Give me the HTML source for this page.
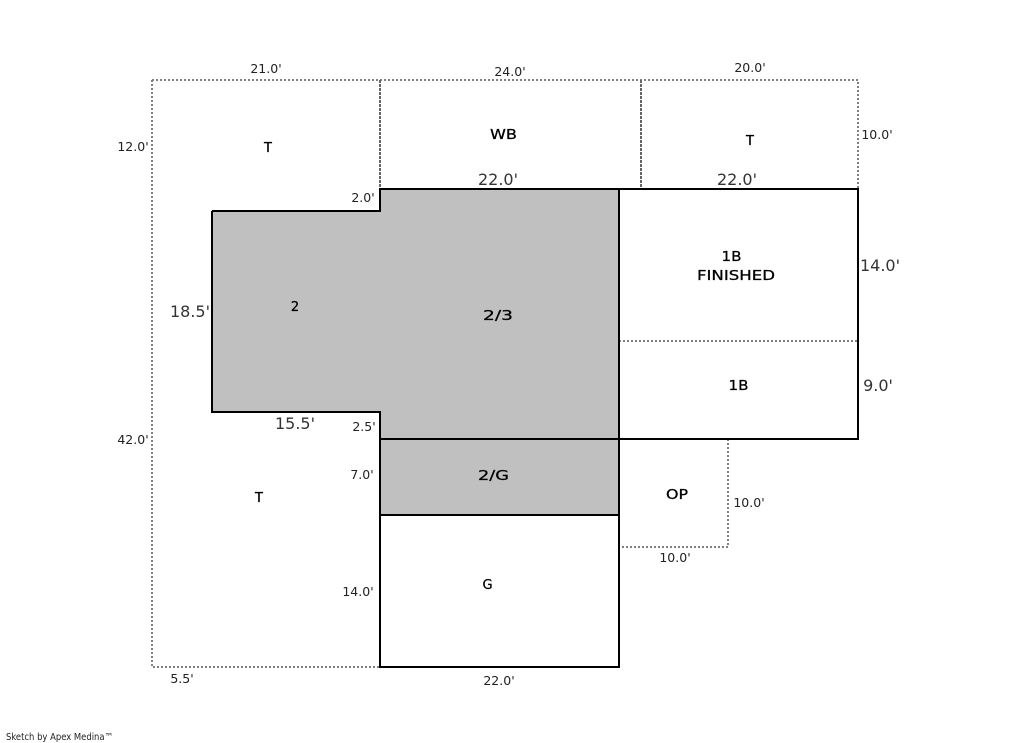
<!DOCTYPE html>
<html>
<head>
<meta charset="utf-8">
<style>
html,body{margin:0;padding:0;background:#fff;width:1013px;height:743px;overflow:hidden}
svg{display:block}
text{font-family:"DejaVu Sans","Liberation Sans",sans-serif;fill:#222;text-anchor:middle}
.s{font-size:12.5px}
.m{font-size:13px;fill:#000;stroke:#000;stroke-width:.25px}
.l{font-size:16px;fill:#333}
.f{font-size:9.5px;text-anchor:start}
.d{fill:none;stroke:#808080;stroke-width:2;stroke-dasharray:2 2;shape-rendering:crispEdges}
</style>
</head>
<body>
<svg width="1013" height="743" viewBox="0 0 1013 743" xmlns="http://www.w3.org/2000/svg">
<rect width="1013" height="743" fill="#fff"/>
<path d="M212 211H380V189H619V515H380V412H212Z" fill="#c0c0c0"/>
<path class="d" d="M152 80H858V189"/>
<path class="d" d="M152 80V667H380"/>
<path class="d" style="stroke:#666;stroke-dasharray:3 1" d="M380 80V189"/>
<path class="d" style="stroke:#666;stroke-dasharray:3 1" d="M641 80V189"/>
<path class="d" d="M728 439V547H619"/>
<path class="d" d="M619 341H858"/>
<g fill="none" stroke="#000" stroke-width="2">
<path d="M212 211H380V189H858V439H619"/>
<path d="M212 211V412H380V667H619V189"/>
<path d="M380 439H619"/>
<path d="M380 515H619"/>
</g>
<text class="s" x="266" y="73">21.0'</text>
<text class="s" x="510" y="76">24.0'</text>
<text class="s" x="750" y="72">20.0'</text>
<text class="s" x="133" y="151">12.0'</text>
<text class="s" x="877" y="139">10.0'</text>
<text class="s" x="363" y="202">2.0'</text>
<text class="s" x="133" y="444">42.0'</text>
<text class="s" x="364" y="431">2.5'</text>
<text class="s" x="362" y="479">7.0'</text>
<text class="s" x="358" y="596">14.0'</text>
<text class="s" x="182" y="683">5.5'</text>
<text class="s" x="499" y="685">22.0'</text>
<text class="s" x="675" y="562">10.0'</text>
<text class="s" x="749" y="507">10.0'</text>
<text class="l" x="498" y="185">22.0'</text>
<text class="l" x="737" y="185">22.0'</text>
<text class="l" x="880" y="271">14.0'</text>
<text class="l" x="878" y="391">9.0'</text>
<text class="l" x="190" y="317">18.5'</text>
<text class="l" x="295" y="429">15.5'</text>
<text class="m" x="268" y="152">T</text>
<text class="m" x="503.5" y="139" textLength="27" lengthAdjust="spacingAndGlyphs">WB</text>
<text class="m" x="750" y="145">T</text>
<text class="m" x="731.5" y="261" textLength="20" lengthAdjust="spacingAndGlyphs">1B</text>
<text class="m" x="736" y="280" textLength="78" lengthAdjust="spacingAndGlyphs">FINISHED</text>
<text class="m" x="295" y="311">2</text>
<text class="m" x="498" y="320" textLength="30" lengthAdjust="spacingAndGlyphs">2/3</text>
<text class="m" x="738.5" y="390" textLength="20" lengthAdjust="spacingAndGlyphs">1B</text>
<text class="m" x="493.5" y="480" textLength="31" lengthAdjust="spacingAndGlyphs">2/G</text>
<text class="m" x="677" y="499" textLength="22" lengthAdjust="spacingAndGlyphs">OP</text>
<text class="m" x="259" y="502">T</text>
<text class="m" x="487.5" y="589">G</text>
<text class="f" x="6" y="740" textLength="107" lengthAdjust="spacingAndGlyphs">Sketch by Apex Medina™</text>
</svg>
</body>
</html>
